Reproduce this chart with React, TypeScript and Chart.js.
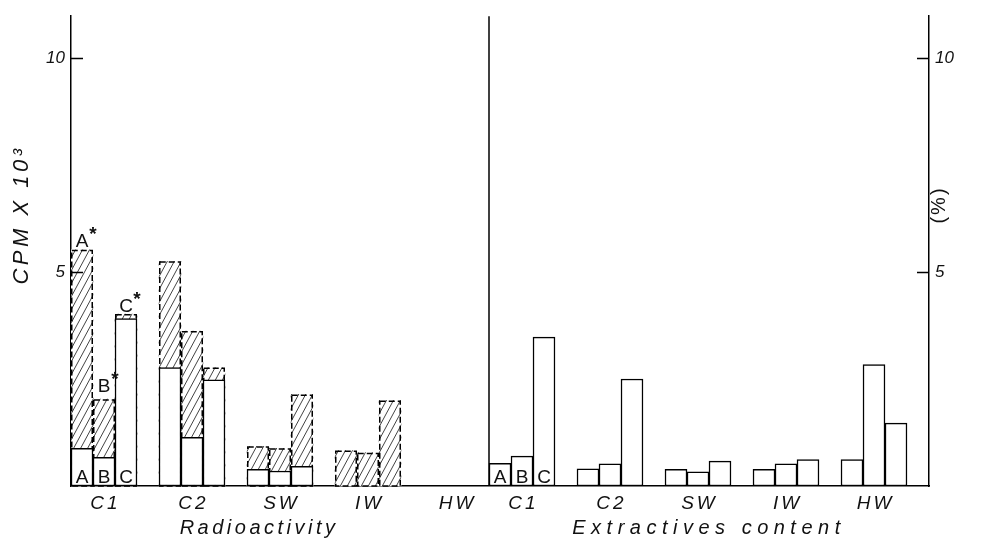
import React, { useEffect, useRef } from "react";
import { Chart, registerables } from "chart.js";

Chart.register(...registerables);

// ---- data ----
const groups = ["C1", "C2", "SW", "IW", "HW"];
const subLabels = ["A", "B", "C"];
const halfTitles = ["Radioactivity", "Extractives content"];
// Radioactivity (CPM x 10^3): solid white part and dashed/hatched total, per group A,B,C
const radioWhite = [0.88, 0.67, 3.91, 2.77, 1.14, 2.48, 0.39, 0.35, 0.46, 0, 0, 0, null, null, null];
const radioTotal = [5.52, 2.03, 4.02, 5.25, 3.62, 2.77, 0.93, 0.88, 2.14, 0.83, 0.78, 2.0, null, null, null];
// Extractives content (%)
const extractives = [0.53, 0.7, 3.48, 0.4, 0.52, 2.5, 0.39, 0.33, 0.58, 0.39, 0.52, 0.62, 0.62, 2.84, 1.47];
const yTicks = [5, 10];
const yMax = 10.98;

// ---- slot layout: left half 19 slots, right half 20 slots ----
const SLOTS = 39;
const slotOf = (half: number, g: number, k: number) => half * 19 + g * 4 + k;
const labels: string[] = Array.from({ length: SLOTS }, () => "");
groups.forEach((g, gi) => {
  labels[slotOf(0, gi, 1)] = g;
  labels[slotOf(1, gi, 1)] = g;
});
function spread(values: (number | null)[], half: number) {
  const out: (number | null)[] = Array.from({ length: SLOTS }, () => null);
  values.forEach((v, i) => {
    out[slotOf(half, Math.floor(i / 3), i % 3)] = v;
  });
  return out;
}
const hatchData = spread(radioTotal, 0);
const whiteData = spread(radioWhite, 0);
const extData = spread(extractives, 1);

const FONT = '"Liberation Sans", Arial, sans-serif';

function makePattern(): CanvasPattern | string {
  const c = document.createElement("canvas");
  const w = 7, h = 13;
  c.width = w;
  c.height = h;
  const g = c.getContext("2d");
  if (!g) return "#ccc";
  g.fillStyle = "#fff";
  g.fillRect(0, 0, w, h);
  g.strokeStyle = "#444";
  g.lineWidth = 1;
  for (const o of [-w, 0, w]) {
    g.beginPath();
    g.moveTo(o, h);
    g.lineTo(o + w, 0);
    g.stroke();
  }
  return g.createPattern(c, "repeat") || "#ccc";
}

const customPlugin = {
  id: "customDraw",
  afterDatasetDraw(chart: any, args: any) {
    if (args.index !== 0) return;
    const ctx = chart.ctx;
    ctx.save();
    ctx.strokeStyle = "#000";
    ctx.lineWidth = 1.5;
    ctx.setLineDash([6, 3]);
    args.meta.data.forEach((el: any, i: number) => {
      if (hatchData[i] == null) return;
      const { x, y, base, width } = el.getProps(["x", "y", "base", "width"], true);
      const l = x - width / 2 + 0.75;
      ctx.strokeRect(l, y + 0.75, width - 1.5, base - y - 0.75);
    });
    ctx.restore();
  },
  afterDraw(chart: any) {
    const ctx = chart.ctx;
    const xs = chart.scales.x;
    const ys = chart.scales.y;
    const ca = chart.chartArea;
    const slotW = xs.getPixelForValue(1) - xs.getPixelForValue(0);
    const slotX = (s: number) => xs.getPixelForValue(0) + s * slotW;
    ctx.save();
    ctx.strokeStyle = "#000";
    ctx.fillStyle = "#111";
    ctx.lineWidth = 1.5;
    // inner ticks
    yTicks.forEach((v) => {
      const py = Math.round(ys.getPixelForValue(v)) + 0.5;
      ctx.beginPath();
      ctx.moveTo(ca.left, py);
      ctx.lineTo(ca.left + 12, py);
      ctx.moveTo(ca.right, py);
      ctx.lineTo(ca.right - 12, py);
      ctx.stroke();
    });
    // divider
    const dx = xs.getPixelForValue(18) + slotW / 2;
    ctx.beginPath();
    ctx.moveTo(dx, ca.top);
    ctx.lineTo(dx, ca.bottom);
    ctx.stroke();

    // group labels
    ctx.font = "italic 19px " + FONT;
    (ctx as any).letterSpacing = "3px";
    ctx.textAlign = "center";
    ctx.textBaseline = "middle";
    labels.forEach((lab, i) => {
      if (!lab) return;
      ctx.fillText(lab, xs.getPixelForValue(i) + 1.5, ca.bottom + 18);
    });
    // half titles
    ctx.font = "italic 20px " + FONT;
    (ctx as any).letterSpacing = "3.5px";
    ctx.fillText(halfTitles[0], slotX(8.05), ca.bottom + 42);
    (ctx as any).letterSpacing = "5.5px";
    ctx.fillText(halfTitles[1], slotX(28.5), ca.bottom + 42);

    // axis titles
    ctx.save();
    ctx.translate(22, 215);
    ctx.rotate(-Math.PI / 2);
    ctx.font = "italic 22px " + FONT;
    (ctx as any).letterSpacing = "3.5px";
    ctx.fillText("CPM X 10³", 0, 0);
    ctx.restore();
    ctx.save();
    ctx.translate(ca.right + 10, 205);
    ctx.rotate(-Math.PI / 2);
    ctx.font = "20px " + FONT;
    (ctx as any).letterSpacing = "2px";
    ctx.fillText("(%)", 0, 0);
    ctx.restore();

    (ctx as any).letterSpacing = "0px";
    // letters inside C1 bars (both halves)
    ctx.font = "19px " + FONT;
    ctx.textBaseline = "alphabetic";
    [0, 1].forEach((half) => {
      subLabels.forEach((s, k) => {
        const px = xs.getPixelForValue(slotOf(half, 0, k));
        ctx.fillText(s, px, ca.bottom - 3);
      });
    });
    // starred letters above hatched C1 bars
    const gaps = [3, 7, 2];
    subLabels.forEach((s, k) => {
      const i = slotOf(0, 0, k);
      const v = hatchData[i] as number;
      const px = xs.getPixelForValue(i);
      const py = ys.getPixelForValue(v) - gaps[k];
      ctx.font = "19px " + FONT;
      ctx.fillText(s, px, py);
      ctx.font = "bold 19px " + FONT;
      ctx.fillText("*", px + 11, py - 7);
    });
    ctx.restore();
  },
};

export default function App() {
  const ref = useRef<HTMLCanvasElement | null>(null);
  useEffect(() => {
    document.body.style.margin = "0";
    const canvas = ref.current;
    if (!canvas) return;
    const pattern = makePattern();
    const tickFont = { family: FONT, size: 17, style: "italic" as const };
    const yCommon = {
      min: 0,
      max: yMax,
      afterBuildTicks: (s: any) => {
        s.ticks = yTicks.map((v) => ({ value: v }));
      },
      grid: { display: false, drawTicks: false },
      border: { display: true, color: "#000", width: 1.5 },
      ticks: { font: tickFont, color: "#111", padding: 6 },
    };
    const chart = new Chart(canvas, {
      type: "bar",
      data: {
        labels,
        datasets: [
          {
            label: "Radioactivity total",
            data: hatchData,
            backgroundColor: pattern as any,
            borderWidth: 0,
            grouped: false,
            order: 3,
            yAxisID: "y",
            categoryPercentage: 1,
            barPercentage: 1,
          },
          {
            label: "Radioactivity",
            data: whiteData,
            backgroundColor: "#fff",
            borderColor: "#000",
            borderWidth: 1.5,
            borderSkipped: false,
            grouped: false,
            order: 1,
            yAxisID: "y",
            categoryPercentage: 1,
            barPercentage: 1,
          },
          {
            label: "Extractives content",
            data: extData,
            backgroundColor: "#fff",
            borderColor: "#000",
            borderWidth: 1.5,
            borderSkipped: false,
            grouped: false,
            order: 1,
            yAxisID: "y2",
            categoryPercentage: 1,
            barPercentage: 1,
          },
        ] as any,
      },
      options: {
        responsive: false,
        animation: false,
        layout: { padding: { top: 5, left: 0, right: 0, bottom: 0 } },
        plugins: { legend: { display: false }, tooltip: { enabled: false } },
        scales: {
          x: {
            type: "category",
            offset: true,
            grid: { display: false, drawTicks: false },
            border: { display: true, color: "#000", width: 1.5 },
            ticks: { display: false },
            afterFit: (s: any) => {
              s.height = 73;
            },
          },
          y: {
            ...yCommon,
            position: "left",
            afterFit: (s: any) => {
              s.width = 71;
            },
          },
          y2: {
            ...yCommon,
            position: "right",
            afterFit: (s: any) => {
              s.width = 52;
            },
          },
        } as any,
      },
      plugins: [customPlugin as any],
    });
    return () => chart.destroy();
  }, []);
  return (
    <div style={{ width: 981, height: 559, background: "#fff" }}>
      <canvas ref={ref} width={981} height={559} />
    </div>
  );
}
